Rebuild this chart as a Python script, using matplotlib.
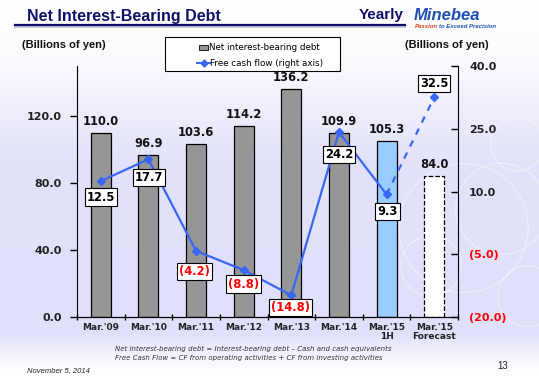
import matplotlib
matplotlib.use("Agg")
import matplotlib.pyplot as plt
import matplotlib.patches as patches
from matplotlib.lines import Line2D
from matplotlib.colors import LinearSegmentedColormap
import numpy as np

categories = ["Mar.'09", "Mar.'10", "Mar.'11", "Mar.'12", "Mar.'13", "Mar.'14", "Mar.'15\n1H", "Mar.'15\nForecast"]
debt = [110.0, 96.9, 103.6, 114.2, 136.2, 109.9, 105.3, 84.0]
fcf = [12.5, 17.7, -4.2, -8.8, -14.8, 24.2, 9.3, 32.5]
left_ticks = [0.0, 40.0, 80.0, 120.0]
right_ticks = [-20.0, -5.0, 10.0, 25.0, 40.0]

NAVY = "#10106a"
BLUE = "#3a66f5"

fig = plt.figure(figsize=(5.39, 3.8), dpi=100)

# background gradient
bg = fig.add_axes([0, 0, 1, 1], zorder=-10)
stops = [(0.0, "#ffffff"), (0.14, "#fbfbfe"), (0.42, "#e2e2fa"), (0.88, "#e0e0fa"), (0.96, "#fafafe"), (1.0, "#ffffff")]
cmap = LinearSegmentedColormap.from_list("bg", stops)
grad = np.linspace(0, 1, 380).reshape(-1, 1)
bg.imshow(grad, aspect="auto", cmap=cmap, extent=[0, 1, 0, 1], origin="upper")
# faint decorative rings
for cx, cy, r in [(0.93, 0.45, 0.12), (0.86, 0.40, 0.17), (0.96, 0.62, 0.07), (0.98, 0.22, 0.08), (0.80, 0.30, 0.08)]:
    bg.add_patch(patches.Ellipse((cx, cy), 2 * r * 380 / 539, 2 * r, fill=False, edgecolor="white", lw=0.8, alpha=0.45))
bg.set_xlim(0, 1)
bg.set_ylim(0, 1)
bg.axis("off")

ax = fig.add_axes([77 / 539, 1 - 317 / 380, 381 / 539, 251 / 380])
ax.patch.set_alpha(0)
x = np.arange(len(categories))

face = ["#969696"] * 6 + ["#99ccff", "white"]
for i, v in enumerate(debt):
    ls = "--" if i == 7 else "-"
    ax.bar(x[i], v, width=0.42, color=face[i], edgecolor="black", linewidth=0.9, linestyle=ls, zorder=2)
    ax.text(x[i], v + 3, f"{v:.1f}", ha="center", va="bottom", fontsize=8.3, fontweight="bold", color="#111111")

ax.set_xlim(-0.5, len(categories) - 0.5)
ax.set_ylim(0, 150)
ax.set_yticks(left_ticks)
ax.set_yticklabels([f"{t:.1f}" for t in left_ticks], fontsize=8, fontweight="bold", color="#222222")
ax.set_xticks(np.arange(len(categories) + 1) - 0.5, minor=True)
ax.set_xticks(x)
ax.set_xticklabels(categories, fontsize=6.5, fontweight="bold", color="#222222", linespacing=1.0)
ax.tick_params(axis="x", which="major", length=0, pad=4)
ax.tick_params(axis="x", which="minor", length=5, direction="inout", width=1)
ax.tick_params(axis="y", length=5, width=1, direction="out", pad=6)
ax.spines["top"].set_visible(False)
ax.spines["right"].set_visible(False)

ax2 = ax.twinx()
ax2.set_ylim(-20, 40)
ax2.plot(x[:7], fcf[:7], color=BLUE, lw=1.6, marker="D", ms=4, zorder=4)
ax2.plot(x[6:8], fcf[6:8], color=BLUE, lw=1.6, ls=(0, (3, 3)), zorder=4)
ax2.plot(x[7], fcf[7], color=BLUE, marker="D", ms=4, zorder=4)
ax2.set_yticks(right_ticks)
ax2.set_yticklabels([f"({abs(t):.1f})" if t < 0 else f"{t:.1f}" for t in right_ticks],
                    fontsize=8, fontweight="bold")
for lbl, t in zip(ax2.get_yticklabels(), right_ticks):
    lbl.set_color("red" if t < 0 else "#222222")
ax2.tick_params(axis="y", length=5, width=1, direction="in", pad=8)
ax2.spines["top"].set_visible(False)
ax2.spines["left"].set_visible(False)

# label offsets in points (dx, dy) for the FCF values
offs = [(0, -11.5), (0.5, -13), (-1, -15), (0, -10), (-0.5, -8.6), (0, -16), (0.5, -12), (0, 10)]
for i, v in enumerate(fcf):
    txt = f"({abs(v):.1f})" if v < 0 else f"{v:.1f}"
    ax2.annotate(txt, (x[i], v), xytext=offs[i], textcoords="offset points", ha="center", va="center",
                 fontsize=8.3, fontweight="bold", color="red" if v < 0 else "black", zorder=6,
                 bbox=dict(boxstyle="square,pad=0.18", fc="white", ec="black", lw=0.8))

# legend box
fig.patches.append(patches.Rectangle((165 / 539, 1 - 71 / 380), 175 / 539, 34 / 380, transform=fig.transFigure,
                                     fc="white", ec="black", lw=0.8))
fig.patches.append(patches.Rectangle((199 / 539, 1 - 50 / 380), 9 / 539, 5 / 380, transform=fig.transFigure,
                                     fc="#969696", ec="black", lw=0.6))
fig.lines.append(Line2D([197 / 539, 210 / 539], [1 - 63 / 380] * 2, transform=fig.transFigure,
                        color=BLUE, lw=1.5))
fig.lines.append(Line2D([203.5 / 539], [1 - 63 / 380], transform=fig.transFigure, color=BLUE, marker="D", ms=3.5))
fig.text(209 / 539, 1 - 47.5 / 380, "Net interest-bearing debt", fontsize=6.3, va="center", ha="left")
fig.text(210 / 539, 1 - 63 / 380, "Free cash flow (right axis)", fontsize=6.3, va="center", ha="left")

# headers
fig.text(27 / 539, 1 - 16 / 380, "Net Interest-Bearing Debt", fontsize=11.5, fontweight="bold", color=NAVY,
         family="Liberation Sans", va="center")
fig.text(359 / 539, 1 - 15 / 380, "Yearly", fontsize=11, fontweight="bold", color=NAVY,
         family="Liberation Sans", va="center")
fig.lines.append(Line2D([15 / 539, 405 / 539], [1 - 26.5 / 380] * 2, transform=fig.transFigure, color="#c8c8d8", lw=1.5))
fig.lines.append(Line2D([15 / 539, 405 / 539], [1 - 25 / 380] * 2, transform=fig.transFigure, color=NAVY, lw=1.6))
fig.text(414 / 539, 1 - 15 / 380, "Minebea", fontsize=12, fontweight="heavy", style="italic", color="#1f4fb0",
         family="Liberation Sans", va="center")
fig.text(415 / 539, 1 - 27 / 380, "Passion", fontsize=4.3, fontweight="bold", style="italic", color="#e04020",
         family="Liberation Sans", va="center")
fig.text(439 / 539, 1 - 27 / 380, "to Exceed Precision", fontsize=4.3, fontweight="bold", style="italic",
         color="#1f4fb0", family="Liberation Sans", va="center")

fig.text(22 / 539, 1 - 45 / 380, "(Billions of yen)", fontsize=8, fontweight="bold", color="#111111",
         family="Liberation Sans", va="center")
fig.text(405 / 539, 1 - 45 / 380, "(Billions of yen)", fontsize=8, fontweight="bold", color="#111111",
         family="Liberation Sans", va="center")

fig.text(115 / 539, 1 - 349 / 380, "Net interest-bearing debt = Interest-bearing debt \u2013 Cash and cash equivalents",
         fontsize=5, style="italic", color="#333333", va="center")
fig.text(115 / 539, 1 - 357.5 / 380, "Free Cash Flow = CF from operating activities + CF from investing activities",
         fontsize=5, style="italic", color="#333333", va="center")
fig.text(27 / 539, 1 - 371 / 380, "November 5, 2014", fontsize=5.5, style="italic", color="#222222",
         family="Liberation Sans", va="center")
fig.text(497 / 539, 1 - 366 / 380, "13", fontsize=7, color="#222222", family="Liberation Sans", va="center")

fig.savefig("out.png", dpi=100)
